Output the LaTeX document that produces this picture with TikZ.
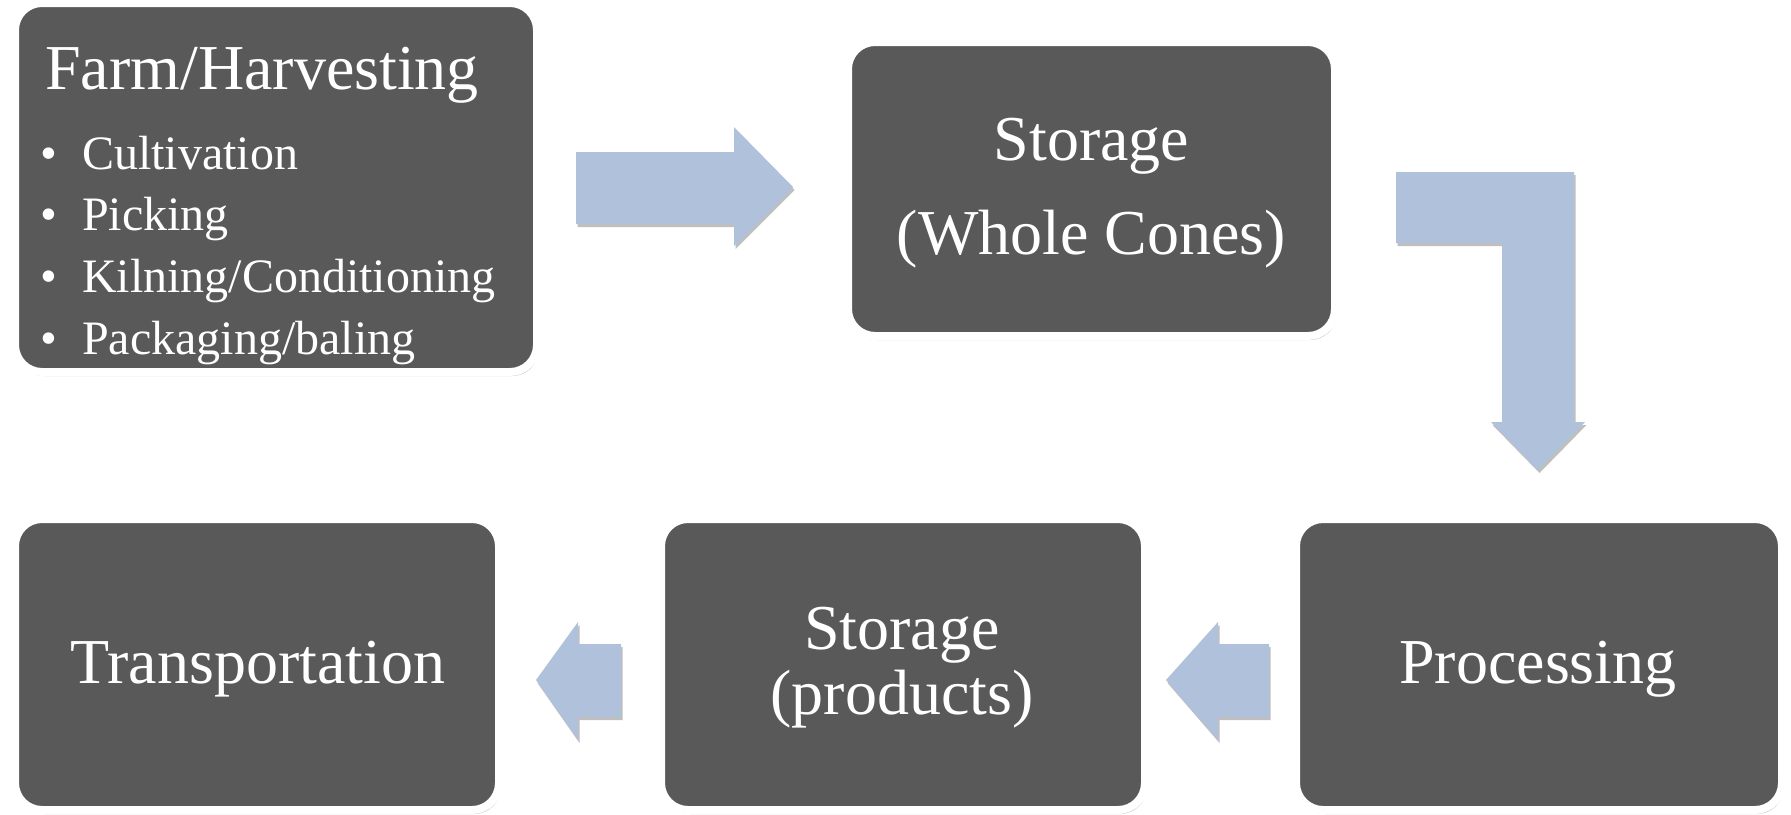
\documentclass[tikz,border=0pt]{standalone}
\usepackage{fontspec}
\setmainfont{Liberation Serif}
\usetikzlibrary{shadows}
\definecolor{boxfill}{RGB}{89,89,89}
\definecolor{arrowfill}{RGB}{176,193,220}
\tikzset{
  stagebox/.style={rectangle, rounded corners=27pt, fill=boxfill, draw=white,
    line width=8pt, inner sep=0pt,
    drop shadow={shadow xshift=2pt, shadow yshift=-4pt, opacity=0.25, fill=black}},
  bigtext/.style={text=white, font=\fontsize{64}{76}\selectfont, inner sep=0pt, anchor=base},
  itemtext/.style={text=white, font=\fontsize{48}{58}\selectfont, inner sep=0pt, anchor=base west},
  blockarrow/.style={fill=arrowfill, draw=none,
    drop shadow={shadow xshift=1.5pt, shadow yshift=-3pt, opacity=0.25, fill=black}},
}
\begin{document}
\begin{tikzpicture}[x={(1pt,0pt)}, y={(0pt,-1pt)}]
\useasboundingbox (0,0) rectangle (1791,814);
% boxes
\node[stagebox, minimum width=522pt, minimum height=369pt] (farm) at (276,187.5) {};
\node[stagebox, minimum width=487pt, minimum height=294pt] (storwc) at (1091.5,189) {};
\node[stagebox, minimum width=484pt, minimum height=291pt] (trans) at (257,664.5) {};
\node[stagebox, minimum width=484pt, minimum height=291pt] (storp) at (903,664.5) {};
\node[stagebox, minimum width=486pt, minimum height=291pt] (proc) at (1539,664.5) {};
% texts
\node[itemtext, font=\fontsize{64}{76}\selectfont] (farmtitle) at (45,89) {Farm/Harvesting};
\node[itemtext] (it1) at (40,169) {\makebox[42pt][l]{•}Cultivation};
\node[itemtext] (it2) at (40,230) {\makebox[42pt][l]{•}Picking};
\node[itemtext] (it3) at (40,292) {\makebox[42pt][l]{•}Kilning/Conditioning};
\node[itemtext] (it4) at (40,354) {\makebox[42pt][l]{•}Packaging/baling};
\node[bigtext] (swc1) at (1091.5,160) {Storage};
\node[bigtext] (swc2) at (1091.5,254) {(Whole Cones)};
\node[bigtext] (tt) at (258,683) {Transportation};
\node[bigtext] (sp1) at (902,649) {Storage};
\node[bigtext] (sp2) at (902,714) {(products)};
\node[bigtext] (pt) at (1538,683) {Processing};
% arrows
\path[blockarrow] (576,152) -- (734,152) -- (734,127) -- (793,187) -- (734,246) -- (734,224) -- (576,224) -- cycle;
\path[blockarrow] (1396,172) -- (1574,172) -- (1574,422) -- (1585,422) -- (1538,470) -- (1491,422) -- (1502,422) -- (1502,243) -- (1396,243) -- cycle;
\path[blockarrow] (621,644) -- (578,644) -- (578,622) -- (536,680) -- (578,740) -- (578,717) -- (621,717) -- cycle;
\path[blockarrow] (1269,644) -- (1218,644) -- (1218,622) -- (1166,680) -- (1218,740) -- (1218,717) -- (1269,717) -- cycle;
\end{tikzpicture}
\end{document}
